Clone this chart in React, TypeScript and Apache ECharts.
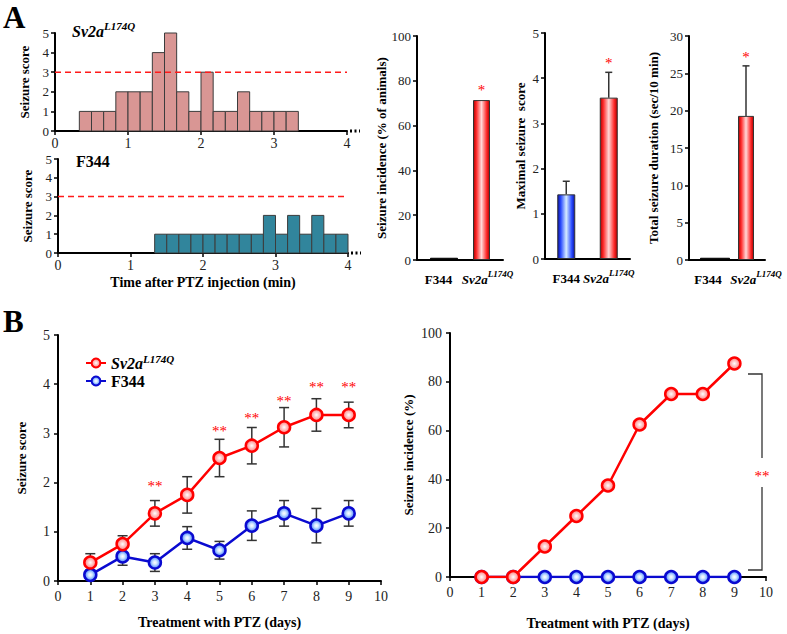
import React, { useEffect, useRef } from 'react';
import * as echarts from 'echarts';

const FONT = 'Liberation Serif, Times New Roman, serif';

// ---------- Panel A: histograms (seizure score per 10-s bin, starting at 0 s) ----------
const binMinutes = 10 / 60;
const sv2aHistScores = [0, 0, 1, 1, 1, 2, 2, 2, 4, 5, 2, 1, 3, 1, 1, 2, 1, 1, 1, 1, 0, 0, 0, 0];
const f344HistScores = [0, 0, 0, 0, 0, 0, 0, 0, 1, 1, 1, 1, 1, 1, 1, 1, 1, 2, 1, 2, 1, 2, 1, 1];
const histThreshold = 3;
const histXMax = 4;

// ---------- Panel A: bar charts ----------
const groups = ['F344', 'Sv2a'];
const incidenceF344 = 1;
const incidenceSv2a = 71.4;
const incidenceStar = 77.7;
const maxScoreMean = [1.43, 3.57];
const maxScoreSem = [0.29, 0.56];
const maxScoreStar = 4.42;
const durationF344 = 0.3;
const durationSv2a = 19.3;
const durationSemSv2a = 6.7;
const durationStar = 27.7;

// ---------- Panel B ----------
const days = [1, 2, 3, 4, 5, 6, 7, 8, 9];
const sv2aScore = [0.375, 0.75, 1.375, 1.75, 2.5, 2.75, 3.125, 3.375, 3.375];
const sv2aScoreSem = [0.18, 0.17, 0.26, 0.37, 0.38, 0.37, 0.4, 0.33, 0.26];
const f344Score = [0.125, 0.5, 0.375, 0.875, 0.625, 1.125, 1.375, 1.125, 1.375];
const f344ScoreSem = [0.1, 0.18, 0.18, 0.23, 0.18, 0.3, 0.26, 0.35, 0.26];
const sigDays = [3, 5, 6, 7, 8, 9];
const sigStarLevel = [2.02, 3.14, 3.39, 3.75, 4.03, 4.03];
const sv2aIncidence = [0, 0, 12.5, 25, 37.5, 62.5, 75, 75, 87.5];
const f344Incidence = [0, 0, 0, 0, 0, 0, 0, 0, 0];

const RED = '#ff0000';
const BLUE = '#0a0ad0';

const axisLine = { show: true, onZero: false, lineStyle: { color: '#000', width: 2 } };
const axisTick = { show: true, length: 4, lineStyle: { color: '#000', width: 1.5 } };
const lab = (margin: number, size = 13) => ({
  color: '#222', fontFamily: FONT, fontSize: size, margin,
});
const nameStyle = { fontFamily: FONT, fontWeight: 'bold', fontSize: 13, color: '#000' };

const supRich = (pad: number) => ({
  i: { fontFamily: FONT, fontStyle: 'italic', fontWeight: 'bold', fontSize: 13, lineHeight: 20, color: '#000', padding: [0, 0, 0, pad] },
  s: { fontFamily: FONT, fontStyle: 'italic', fontWeight: 'bold', fontSize: 9, verticalAlign: 'top', color: '#000' },
  b: { fontFamily: FONT, fontWeight: 'bold', fontSize: 13, lineHeight: 20, color: '#000' },
});
const catFormatter = (v: string) => (v === 'Sv2a' ? '{i|Sv2a}{s|L174Q}' : '{b|' + v + '}');

const hGrad = (edge: string, mid: string, center: string) =>
  new echarts.graphic.LinearGradient(0, 0, 1, 0, [
    { offset: 0, color: edge },
    { offset: 0.18, color: mid },
    { offset: 0.5, color: center },
    { offset: 0.82, color: mid },
    { offset: 1, color: edge },
  ]);
const redBar = () => hGrad('#b00000', '#ff2a2a', '#ffd8d8');
const blueBar = () => hGrad('#0a10a0', '#2a4cff', '#d6ecff');

const markerStyle = (border: string, edge: string, center: string) => ({
  color: new echarts.graphic.RadialGradient(0.5, 0.5, 0.5, [
    { offset: 0, color: '#ffffff' },
    { offset: 0.35, color: center },
    { offset: 1, color: edge },
  ]),
  borderColor: border,
  borderWidth: 2.5,
});

function histData(scores: number[]) {
  const out: number[][] = [];
  scores.forEach((s, i) => {
    if (s > 0) out.push([i * binMinutes, (i + 1) * binMinutes, s]);
  });
  return out;
}

const histRender = (fill: string) => (params: any, api: any) => {
  const p0 = api.coord([api.value(0), api.value(2)]);
  const p1 = api.coord([api.value(1), 0]);
  return {
    type: 'rect',
    shape: { x: p0[0], y: p0[1], width: p1[0] - p0[0], height: p1[1] - p0[1] },
    style: { fill, stroke: '#3c3c3c', lineWidth: 1 },
  };
};

const errUpRender = (params: any, api: any) => {
  const c = api.value(0);
  const m = api.value(1);
  const e = api.value(2);
  if (!(e > 0)) return null;
  const a = api.coord([c, m]);
  const b = api.coord([c, m + e]);
  const style = { stroke: '#333', lineWidth: 1.5 };
  return {
    type: 'group',
    children: [
      { type: 'line', shape: { x1: a[0], y1: a[1], x2: b[0], y2: b[1] }, style },
      { type: 'line', shape: { x1: b[0] - 3.5, y1: b[1], x2: b[0] + 3.5, y2: b[1] }, style },
    ],
  };
};

const errBothRender = (params: any, api: any) => {
  const x = api.value(0);
  const m = api.value(1);
  const e = api.value(2);
  const a = api.coord([x, m - e]);
  const b = api.coord([x, m + e]);
  const style = { stroke: '#333', lineWidth: 1.5 };
  return {
    type: 'group',
    children: [
      { type: 'line', shape: { x1: a[0], y1: a[1], x2: b[0], y2: b[1] }, style },
      { type: 'line', shape: { x1: b[0] - 5, y1: b[1], x2: b[0] + 5, y2: b[1] }, style },
      { type: 'line', shape: { x1: a[0] - 5, y1: a[1], x2: a[0] + 5, y2: a[1] }, style },
    ],
  };
};

const starRender = (text: string) => (params: any, api: any) => {
  const p = api.coord([api.value(0), api.value(1)]);
  return {
    type: 'text',
    x: p[0],
    y: p[1] + 4,
    style: {
      text, fill: RED, font: '15px ' + FONT,
      align: 'center', verticalAlign: 'middle', textAlign: 'center', textVerticalAlign: 'middle',
    },
  };
};

function buildOption() {
  const grids = [
    { left: 55, top: 33, width: 292, height: 98 },
    { left: 58, top: 159, width: 290, height: 94 },
    { left: 417, top: 36, width: 86, height: 224 },
    { left: 545, top: 33, width: 85, height: 226 },
    { left: 689, top: 36, width: 76, height: 224 },
    { left: 58, top: 335, width: 323, height: 246 },
    { left: 450, top: 333, width: 316, height: 244 },
  ];

  const histX = (idx: number, withName: boolean) => ({
    gridIndex: idx, type: 'value', min: 0, max: histXMax, interval: 1,
    axisLine, axisTick, splitLine: { show: false }, axisLabel: lab(5, 14),
    ...(withName
      ? { name: 'Time after PTZ injection (min)', nameLocation: 'middle', nameGap: 22,
          nameTextStyle: { ...nameStyle, fontSize: 14 } }
      : {}),
  });
  const histY = (idx: number) => ({
    gridIndex: idx, type: 'value', min: 0, max: 5, interval: 1,
    axisLine, axisTick, splitLine: { show: false }, axisLabel: lab(6),
    name: 'Seizure score', nameLocation: 'middle', nameRotate: 90, nameGap: 24, nameTextStyle: nameStyle,
  });
  const catX = (idx: number, pad: number) => ({
    gridIndex: idx, type: 'category', data: groups,
    axisLine, axisTick: { show: false }, splitLine: { show: false },
    axisLabel: { interval: 0, margin: 9, formatter: catFormatter, rich: supRich(pad), hideOverlap: false },
  });
  const barY = (idx: number, max: number, interval: number, name: string, gap: number) => ({
    gridIndex: idx, type: 'value', min: 0, max, interval,
    axisLine, axisTick, splitLine: { show: false }, axisLabel: lab(6),
    name, nameLocation: 'middle', nameRotate: 90, nameGap: gap, nameTextStyle: nameStyle,
  });
  const dayX = (idx: number, gap: number) => ({
    gridIndex: idx, type: 'value', min: 0, max: 10, interval: 1,
    axisLine, axisTick, splitLine: { show: false }, axisLabel: lab(8, 14),
    name: 'Treatment with PTZ (days)', nameLocation: 'middle', nameGap: gap,
    nameTextStyle: { ...nameStyle, fontSize: 14 },
  });

  const xAxis = [histX(0, false), histX(1, true), catX(2, 12), catX(3, 0), catX(4, 20), dayX(5, 34), dayX(6, 39)];
  const yAxis = [
    histY(0), histY(1),
    barY(2, 100, 20, 'Seizure incidence (% of animals)', 27),
    barY(3, 5, 1, 'Maximal seizure  score', 18),
    barY(4, 30, 5, 'Total seizure duration (sec/10 min)', 29),
    {
      gridIndex: 5, type: 'value', min: 0, max: 5, interval: 1,
      axisLine, axisTick, splitLine: { show: false }, axisLabel: lab(8, 14),
      name: 'Seizure score', nameLocation: 'middle', nameRotate: 90, nameGap: 30, nameTextStyle: nameStyle,
    },
    {
      gridIndex: 6, type: 'value', min: 0, max: 100, interval: 20,
      axisLine, axisTick, splitLine: { show: false }, axisLabel: lab(8, 14),
      name: 'Seizure incidence (%)', nameLocation: 'middle', nameRotate: 90, nameGap: 35, nameTextStyle: nameStyle,
    },
  ];

  const thresholdLine = (idx: number) => ({
    type: 'line', xAxisIndex: idx, yAxisIndex: idx, symbol: 'none', z: 5,
    data: [[0, histThreshold], [histXMax, histThreshold]],
    lineStyle: { color: '#ff1a1a', width: 1.5, type: [6, 4] },
    silent: true,
  });

  const lineSeries = (name: string, idx: number, ys: number[], color: string, z: number, mk: any) => ({
    type: 'line', name, xAxisIndex: idx, yAxisIndex: idx, z,
    data: days.map((d, i) => [d, ys[i]]),
    symbol: 'circle', symbolSize: 12,
    lineStyle: { color, width: 2.5 },
    itemStyle: mk,
  });
  const redMk = markerStyle(RED, '#ff7a7a', '#ffd0d0');
  const blueMk = markerStyle(BLUE, '#3a7aff', '#cfe6ff');

  const series: any[] = [
    { type: 'custom', xAxisIndex: 0, yAxisIndex: 0, renderItem: histRender('#d99694'), data: histData(sv2aHistScores), z: 2 },
    thresholdLine(0),
    { type: 'custom', xAxisIndex: 1, yAxisIndex: 1, renderItem: histRender('#31859c'), data: histData(f344HistScores), z: 2 },
    thresholdLine(1),

    // bar chart 1: incidence
    { type: 'bar', xAxisIndex: 2, yAxisIndex: 2, barWidth: 28, barGap: '-100%', data: [incidenceF344, '-'],
      itemStyle: { color: '#000', borderColor: '#000', borderWidth: 1 } },
    { type: 'bar', xAxisIndex: 2, yAxisIndex: 2, barWidth: 17, barGap: '-100%', data: ['-', incidenceSv2a],
      itemStyle: { color: redBar(), borderColor: '#333', borderWidth: 1 } },
    { type: 'custom', xAxisIndex: 2, yAxisIndex: 2, renderItem: starRender('*'), data: [[1, incidenceStar]], z: 6 },

    // bar chart 2: maximal score
    { type: 'bar', xAxisIndex: 3, yAxisIndex: 3, barWidth: 18,
      data: [
        { value: maxScoreMean[0], itemStyle: { color: blueBar(), borderColor: '#333', borderWidth: 1 } },
        { value: maxScoreMean[1], itemStyle: { color: redBar(), borderColor: '#333', borderWidth: 1 } },
      ] },
    { type: 'custom', xAxisIndex: 3, yAxisIndex: 3, renderItem: errUpRender, z: 4,
      data: groups.map((g, i) => [i, maxScoreMean[i], maxScoreSem[i]]) },
    { type: 'custom', xAxisIndex: 3, yAxisIndex: 3, renderItem: starRender('*'), data: [[1, maxScoreStar]], z: 6 },

    // bar chart 3: duration
    { type: 'bar', xAxisIndex: 4, yAxisIndex: 4, barWidth: 30, barGap: '-100%', data: [durationF344, '-'],
      itemStyle: { color: '#000', borderColor: '#000', borderWidth: 1 } },
    { type: 'bar', xAxisIndex: 4, yAxisIndex: 4, barWidth: 16, barGap: '-100%', data: ['-', durationSv2a],
      itemStyle: { color: redBar(), borderColor: '#333', borderWidth: 1 } },
    { type: 'custom', xAxisIndex: 4, yAxisIndex: 4, renderItem: errUpRender, z: 4,
      data: [[1, durationSv2a, durationSemSv2a]] },
    { type: 'custom', xAxisIndex: 4, yAxisIndex: 4, renderItem: starRender('*'), data: [[1, durationStar]], z: 6 },

    // panel B left
    { type: 'custom', xAxisIndex: 5, yAxisIndex: 5, renderItem: errBothRender, z: 1,
      data: days.map((d, i) => [d, f344Score[i], f344ScoreSem[i]]) },
    { type: 'custom', xAxisIndex: 5, yAxisIndex: 5, renderItem: errBothRender, z: 1,
      data: days.map((d, i) => [d, sv2aScore[i], sv2aScoreSem[i]]) },
    lineSeries('F344', 5, f344Score, BLUE, 3, blueMk),
    lineSeries('Sv2a', 5, sv2aScore, RED, 4, redMk),
    { type: 'custom', xAxisIndex: 5, yAxisIndex: 5, renderItem: starRender('**'), z: 6,
      data: sigDays.map((d, i) => [d, sigStarLevel[i]]) },

    // panel B right
    lineSeries('F344', 6, f344Incidence, BLUE, 3, blueMk),
    lineSeries('Sv2a', 6, sv2aIncidence, RED, 4, redMk),
  ];

  const txt = (x: number, y: number, text: string, font: string, extra: any = {}) => ({
    type: 'text', x, y, z: 10,
    style: { text, font, fill: '#000', align: 'left', verticalAlign: 'middle', ...extra },
  });

  const bracketStyle = { stroke: '#333', lineWidth: 1.3, fill: 'none' };

  const graphic = [
    txt(3, 17, 'A', 'bold 31px ' + FONT),
    txt(3, 321, 'B', 'bold 31px ' + FONT),
    {
      type: 'text', x: 72, y: 31, z: 10,
      style: {
        text: '{i|Sv2a}{s|L174Q}', align: 'left', verticalAlign: 'middle',
        rich: {
          i: { fontFamily: FONT, fontStyle: 'italic', fontWeight: 'bold', fontSize: 16, lineHeight: 22, fill: '#000' },
          s: { fontFamily: FONT, fontStyle: 'italic', fontWeight: 'bold', fontSize: 11, verticalAlign: 'top', fill: '#000' },
        },
      },
    },
    txt(76, 161, 'F344', 'bold 16px ' + FONT),
    { type: 'line', z: 10, shape: { x1: 350, y1: 131, x2: 360, y2: 131 }, style: { stroke: '#000', lineWidth: 3, lineDash: [2, 2.5] } },
    { type: 'line', z: 10, shape: { x1: 351, y1: 253, x2: 361, y2: 253 }, style: { stroke: '#000', lineWidth: 3, lineDash: [2, 2.5] } },
    { type: 'polyline', z: 10, shape: { points: [[748, 374], [762, 374], [762, 458]] }, style: bracketStyle },
    { type: 'polyline', z: 10, shape: { points: [[762, 487], [762, 570], [748, 570]] }, style: bracketStyle },
    txt(762, 476, '**', '15px ' + FONT, { fill: RED, align: 'center' }),
  ];

  return {
    animation: false,
    backgroundColor: '#ffffff',
    textStyle: { fontFamily: FONT },
    grid: grids,
    xAxis,
    yAxis,
    series,
    graphic,
    legend: {
      left: 80, top: 348, orient: 'vertical', itemWidth: 20, itemHeight: 11, itemGap: 2,
      data: ['Sv2a', 'F344'],
      formatter: (n: string) => (n === 'Sv2a' ? '{i|Sv2a}{s|L174Q}' : '{b|F344}'),
      textStyle: {
        rich: {
          i: { fontFamily: FONT, fontStyle: 'italic', fontWeight: 'bold', fontSize: 16, lineHeight: 20, color: '#000' },
          s: { fontFamily: FONT, fontStyle: 'italic', fontWeight: 'bold', fontSize: 11, verticalAlign: 'top', color: '#000' },
          b: { fontFamily: FONT, fontWeight: 'bold', fontSize: 16, lineHeight: 20, color: '#000' },
        },
      },
      selectedMode: false,
    },
  };
}

export default function App() {
  const ref = useRef<HTMLDivElement>(null);
  useEffect(() => {
    if (!ref.current) return;
    const chart = echarts.init(ref.current, undefined, { renderer: 'svg' });
    chart.setOption(buildOption() as any);
    return () => chart.dispose();
  }, []);
  return (
    <div
      ref={ref}
      style={{ position: 'fixed', left: 0, top: 0, width: 787, height: 634, background: '#fff' }}
    />
  );
}
